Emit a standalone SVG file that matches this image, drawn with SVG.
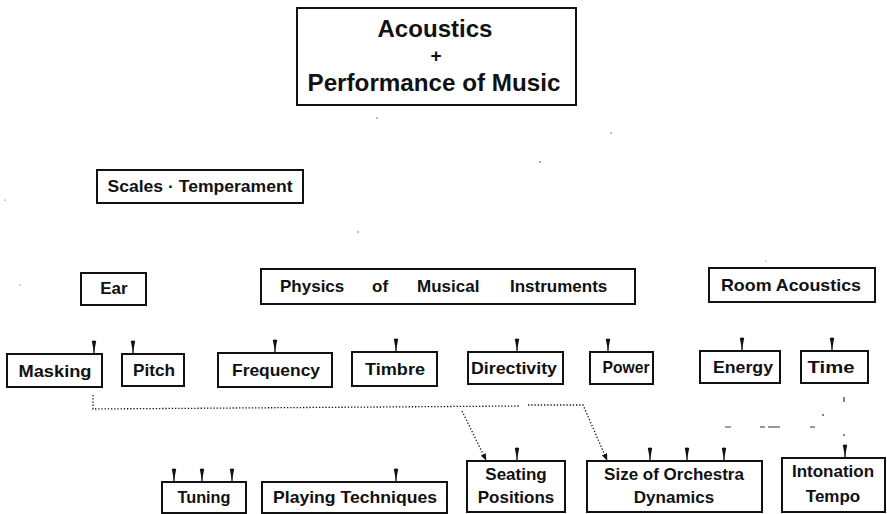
<svg xmlns="http://www.w3.org/2000/svg" xmlns:xlink="http://www.w3.org/1999/xlink" width="887" height="514" viewBox="0 0 887 514">
<style>
.box{fill:#fff;stroke:#111;stroke-width:2}
.t{font-family:"Liberation Sans",Arial,Helvetica,sans-serif;font-weight:bold;font-size:17px;fill:#111;text-anchor:middle}
.title{font-size:23px}
.plus{font-size:19px}
.dot{fill:none;stroke:#111;stroke-width:1.3;stroke-dasharray:1.3 1.9}
.faint{fill:none;stroke:#333;stroke-width:1.2}
.speck{fill:#444}
</style>
<defs>
<path id="tick" d="M-2.2,0 Q0,-1.2 2.2,0 L0.9,7 L0.6,12.5 L-0.6,12.5 L-0.9,7 Z" fill="#111"/>
<marker id="ah" viewBox="0 0 10 8" refX="9" refY="4" markerWidth="7" markerHeight="5.6" orient="auto" markerUnits="userSpaceOnUse">
<path d="M0,0 L10,4 L0,8 Z" fill="#111"/>
</marker>
</defs>
<rect width="887" height="514" fill="#fff"/>

<g id="connectors">
<path class="dot" d="M93,395 L93,409 L520,406"/>
<path class="dot" d="M462,411 L486,460" marker-end="url(#ah)"/>
<path class="dot" d="M528,405 L583,405 L607,460" marker-end="url(#ah)"/>
<g class="faint">
<path d="M844,397 V402"/>
<path d="M725,427 H731 M760,427 H765 M768,427 H780 M810,427 H815"/>
<path d="M844,434 V436"/>
</g>
<circle class="speck" cx="823" cy="415" r="0.9"/>
<circle class="speck" cx="377" cy="118" r="0.7"/>
<circle class="speck" cx="611" cy="133" r="0.7"/>
<circle class="speck" cx="540" cy="162" r="0.8"/>
<circle class="speck" cx="358" cy="232" r="0.7"/>
<circle class="speck" cx="766" cy="261" r="0.6"/>
<circle class="speck" cx="5" cy="200" r="0.6"/>
<circle class="speck" cx="20" cy="285" r="0.6"/>
<use xlink:href="#tick" href="#tick" x="94" y="341"/>
<use xlink:href="#tick" href="#tick" x="133" y="341"/>
<use xlink:href="#tick" href="#tick" x="275" y="340"/>
<use xlink:href="#tick" href="#tick" x="396" y="339"/>
<use xlink:href="#tick" href="#tick" x="517" y="339"/>
<use xlink:href="#tick" href="#tick" x="608" y="339"/>
<use xlink:href="#tick" href="#tick" x="742" y="338"/>
<use xlink:href="#tick" href="#tick" x="832" y="338"/>
<use xlink:href="#tick" href="#tick" x="174" y="469"/>
<use xlink:href="#tick" href="#tick" x="202" y="469"/>
<use xlink:href="#tick" href="#tick" x="232" y="469"/>
<use xlink:href="#tick" href="#tick" x="396" y="469"/>
<use xlink:href="#tick" href="#tick" x="517" y="448"/>
<use xlink:href="#tick" href="#tick" x="650" y="448"/>
<use xlink:href="#tick" href="#tick" x="687" y="448"/>
<use xlink:href="#tick" href="#tick" x="724" y="448"/>
<use xlink:href="#tick" href="#tick" x="845" y="445"/>
</g>

<g id="title">
<rect class="box" x="297" y="8" width="279" height="97"/>
<text class="t title" x="435" y="37" textLength="115" lengthAdjust="spacingAndGlyphs">Acoustics</text>
<text class="t plus" x="436" y="62">+</text>
<text class="t title" x="434" y="91" textLength="253" lengthAdjust="spacingAndGlyphs">Performance of Music</text>
</g>
<g id="scales">
<rect class="box" x="97" y="170" width="206" height="33"/>
<text class="t" x="200" y="192" textLength="185" lengthAdjust="spacingAndGlyphs">Scales · Temperament</text>
</g>
<g id="ear">
<rect class="box" x="81" y="273" width="65" height="32"/>
<text class="t" x="114" y="294">Ear</text>
</g>
<g id="physics">
<rect class="box" x="261" y="269" width="374" height="35"/>
<text class="t" y="292" style="text-anchor:start"><tspan x="280">Physics</tspan><tspan x="372">of</tspan><tspan x="417">Musical</tspan><tspan x="510">Instruments</tspan></text>
</g>
<g id="room">
<rect class="box" x="709" y="268" width="166" height="34"/>
<text class="t" x="791" y="291" textLength="140" lengthAdjust="spacingAndGlyphs">Room Acoustics</text>
</g>
<g id="masking">
<rect class="box" x="7" y="354" width="95" height="33"/>
<text class="t" x="55" y="377" textLength="73" lengthAdjust="spacingAndGlyphs">Masking</text>
</g>
<g id="pitch">
<rect class="box" x="122" y="354" width="62" height="32"/>
<text class="t" x="154" y="376" textLength="42" lengthAdjust="spacingAndGlyphs">Pitch</text>
</g>
<g id="frequency">
<rect class="box" x="218" y="353" width="114" height="34"/>
<text class="t" x="276" y="376" textLength="88" lengthAdjust="spacingAndGlyphs">Frequency</text>
</g>
<g id="timbre">
<rect class="box" x="352" y="352" width="85" height="34"/>
<text class="t" x="395" y="375" textLength="60" lengthAdjust="spacingAndGlyphs">Timbre</text>
</g>
<g id="directivity">
<rect class="box" x="468" y="352" width="95" height="32"/>
<text class="t" x="514" y="374" textLength="86" lengthAdjust="spacingAndGlyphs">Directivity</text>
</g>
<g id="power">
<rect class="box" x="590" y="352" width="63" height="32"/>
<text class="t" x="626" y="373" textLength="47" lengthAdjust="spacingAndGlyphs">Power</text>
</g>
<g id="energy">
<rect class="box" x="700" y="351" width="80" height="32"/>
<text class="t" x="743" y="373" textLength="60" lengthAdjust="spacingAndGlyphs">Energy</text>
</g>
<g id="time">
<rect class="box" x="801" y="351" width="67" height="32"/>
<text class="t" x="831" y="373" textLength="47" lengthAdjust="spacingAndGlyphs">Time</text>
</g>
<g id="tuning">
<rect class="box" x="162" y="482" width="84" height="31"/>
<text class="t" x="204" y="503" textLength="53" lengthAdjust="spacingAndGlyphs">Tuning</text>
</g>
<g id="playing">
<rect class="box" x="262" y="482" width="185" height="31"/>
<text class="t" x="355" y="503" textLength="164" lengthAdjust="spacingAndGlyphs">Playing Techniques</text>
</g>
<g id="seating">
<rect class="box" x="467" y="461" width="98" height="51"/>
<text class="t" x="516" y="480">Seating</text>
<text class="t" x="516" y="503">Positions</text>
</g>
<g id="size">
<rect class="box" x="587" y="461" width="175" height="51"/>
<text class="t" x="674" y="480">Size of Orchestra</text>
<text class="t" x="674" y="503">Dynamics</text>
</g>
<g id="intonation">
<rect class="box" x="782" y="458" width="103" height="54"/>
<text class="t" x="833" y="477">Intonation</text>
<text class="t" x="833" y="502">Tempo</text>
</g>
</svg>
